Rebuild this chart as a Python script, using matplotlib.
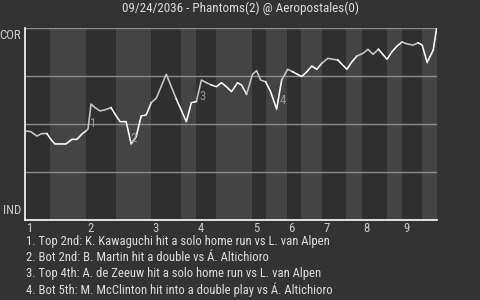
import matplotlib
matplotlib.use("Agg")
import matplotlib.pyplot as plt
from matplotlib import font_manager as fm

# ---- data ----
title = "09/24/2036 - Phantoms(2) @ Aeropostales(0)"
top_label = "COR"
bottom_label = "IND"
plays = [0, 1.1, 2.3, 3.3, 4.3, 5.1, 5.9, 8.1, 9.3, 10.3, 11.3, 12.1, 12.5, 13.1, 13.9,
         14.9, 15.9, 17.1, 18.1, 18.9, 20.1, 21.1, 22.1, 23.1, 24.1, 25.1, 26.1, 28.1,
         30.1, 32.1, 33.1, 34.1, 35.1, 36.1, 37.1, 38.1, 39.1, 40.1, 41.1, 42.3, 43.1,
         44.1, 45.3, 46.1, 46.9, 47.9, 48.9, 50.1, 51.1, 52.3, 53.3, 55.1, 56.1, 57.1,
         58.1, 59.1, 60.3, 61.3, 62.3, 64.1, 65.1, 66.1, 67.3, 68.3, 69.3, 70.4, 72.1,
         73.1, 74.1, 75.1, 76.1, 77.3, 78.3, 79.1, 80.1, 81.3, 82.0]
win_prob = [.464, .46, .4375, .45, .45, .42, .396, .396, .42, .42, .448, .464, .474, .604,
            .585, .568, .574, .585, .542, .512, .512, .396, .434, .542, .547, .611, .634,
            .759, .630, .512, .611, .617, .729, .715, .703, .694, .715, .694, .668, .715,
            .703, .655, .759, .778, .729, .72, .668, .577, .729, .785, .772, .747, .772,
            .802, .785, .816, .842, .837, .833, .785, .824, .854, .868, .889, .863, .889,
            .837, .877, .906, .927, .917, .911, .923, .911, .82, .885, 1.0]
half_inning_starts = [0, 5, 12.1, 18, 25.1, 31, 34.1, 38, 45.1, 48, 52.1, 55, 59.1, 64,
                      67.1, 72, 75.1, 79, 82.0]
inning_labels = ["1", "2", "3", "4", "5", "6", "7", "8", "9"]
event_ids = ["1", "2", "3", "4"]
event_x = [13.55, 21.5, 35.36, 51.4]
event_y = [0.504, 0.426, 0.642, 0.621]
events = [
    "1. Top 2nd: K. Kawaguchi hit a solo home run vs L. van Alpen",
    "2. Bot 2nd: B. Martin hit a double vs \u00c1. Altichioro",
    "3. Top 4th: A. de Zeeuw hit a solo home run vs L. van Alpen",
    "4. Bot 5th: M. McClinton hit into a double play vs \u00c1. Altichioro",
]

# ---- font ----
names = {f.name for f in fm.fontManager.ttflist}
fam = "DejaVu Sans"
for c in ["Roboto Condensed", "Liberation Sans Narrow", "DejaVu Sans Condensed",
          "Open Sans Condensed", "Roboto"]:
    if c in names:
        fam = c
        break
plt.rcParams['font.family'] = [fam, 'DejaVu Sans']

BG = "#333333"
DARK = "#2f2f2f"
LIGHT = "#444444"
TXT = "#dddddd"

fig = plt.figure(figsize=(4.8, 3.0), dpi=100, facecolor=BG)
ax = fig.add_axes([0.0527, 0.2667, 0.9098 - 0.0527, 0.9067 - 0.2667])
ax.set_facecolor(BG)
x0, x1 = half_inning_starts[0], half_inning_starts[-1]
ax.set_xlim(x0, x1)
ax.set_ylim(0, 1)

for i in range(len(half_inning_starts) - 1):
    a, b = half_inning_starts[i], half_inning_starts[i + 1]
    ax.axvspan(a, b, color=DARK if i % 2 == 0 else LIGHT, lw=0, zorder=0)

for gy in [0.25, 0.5, 0.75, 1.0]:
    ax.axhline(gy, color="#8c8c8c", lw=1.0, zorder=1)

# line colored by half inning
for i in range(len(half_inning_starts) - 1):
    a, b = half_inning_starts[i], half_inning_starts[i + 1]
    xs = [x for x in plays if a - 1e-6 <= x <= b + 1e-6]
    ys = [y for x, y in zip(plays, win_prob) if a - 1e-6 <= x <= b + 1e-6]
    idx = plays.index(xs[0])
    if idx > 0 and xs[0] > a + 1e-6:
        xs = [plays[idx - 1]] + xs
        ys = [win_prob[idx - 1]] + ys
    ax.plot(xs, ys, color="#c8c8c8" if i % 2 == 0 else "#ffffff", lw=1.15,
            solid_joinstyle="round", zorder=3)

for lab, ex, ey in zip(event_ids, event_x, event_y):
    ax.text(ex, ey, lab, color="#9a9a9a", fontsize=9.2, ha="center", va="center", zorder=4)

for s in ["top", "right"]:
    ax.spines[s].set_visible(False)
for s in ["left", "bottom"]:
    ax.spines[s].set_color("#ffffff")
    ax.spines[s].set_linewidth(1.2)
ax.set_xticks([])
ax.set_yticks([])

ax.text(-0.01, 0.995, top_label, transform=ax.transAxes, ha="right", va="top",
        color="#cccccc", fontsize=9.2)
ax.text(-0.01, 0.015, bottom_label, transform=ax.transAxes, ha="right", va="bottom",
        color="#cccccc", fontsize=9.2)

for k, lab in enumerate(inning_labels):
    xp = half_inning_starts[2 * k]
    ax.text(xp + 0.3, -0.008, lab, transform=ax.get_xaxis_transform(), ha="left",
            va="top", color="#cccccc", fontsize=9.2)

fig.text(0.501, 0.973, title, ha="center", va="center", color=TXT, fontsize=9.4)

for j, ev in enumerate(events):
    fig.text(26.5 / 480, 1 - (241.7 + 16 * j) / 300, ev, ha="left", va="center",
             color=TXT, fontsize=9.1)

fig.savefig("out.png", dpi=100, facecolor=BG)
